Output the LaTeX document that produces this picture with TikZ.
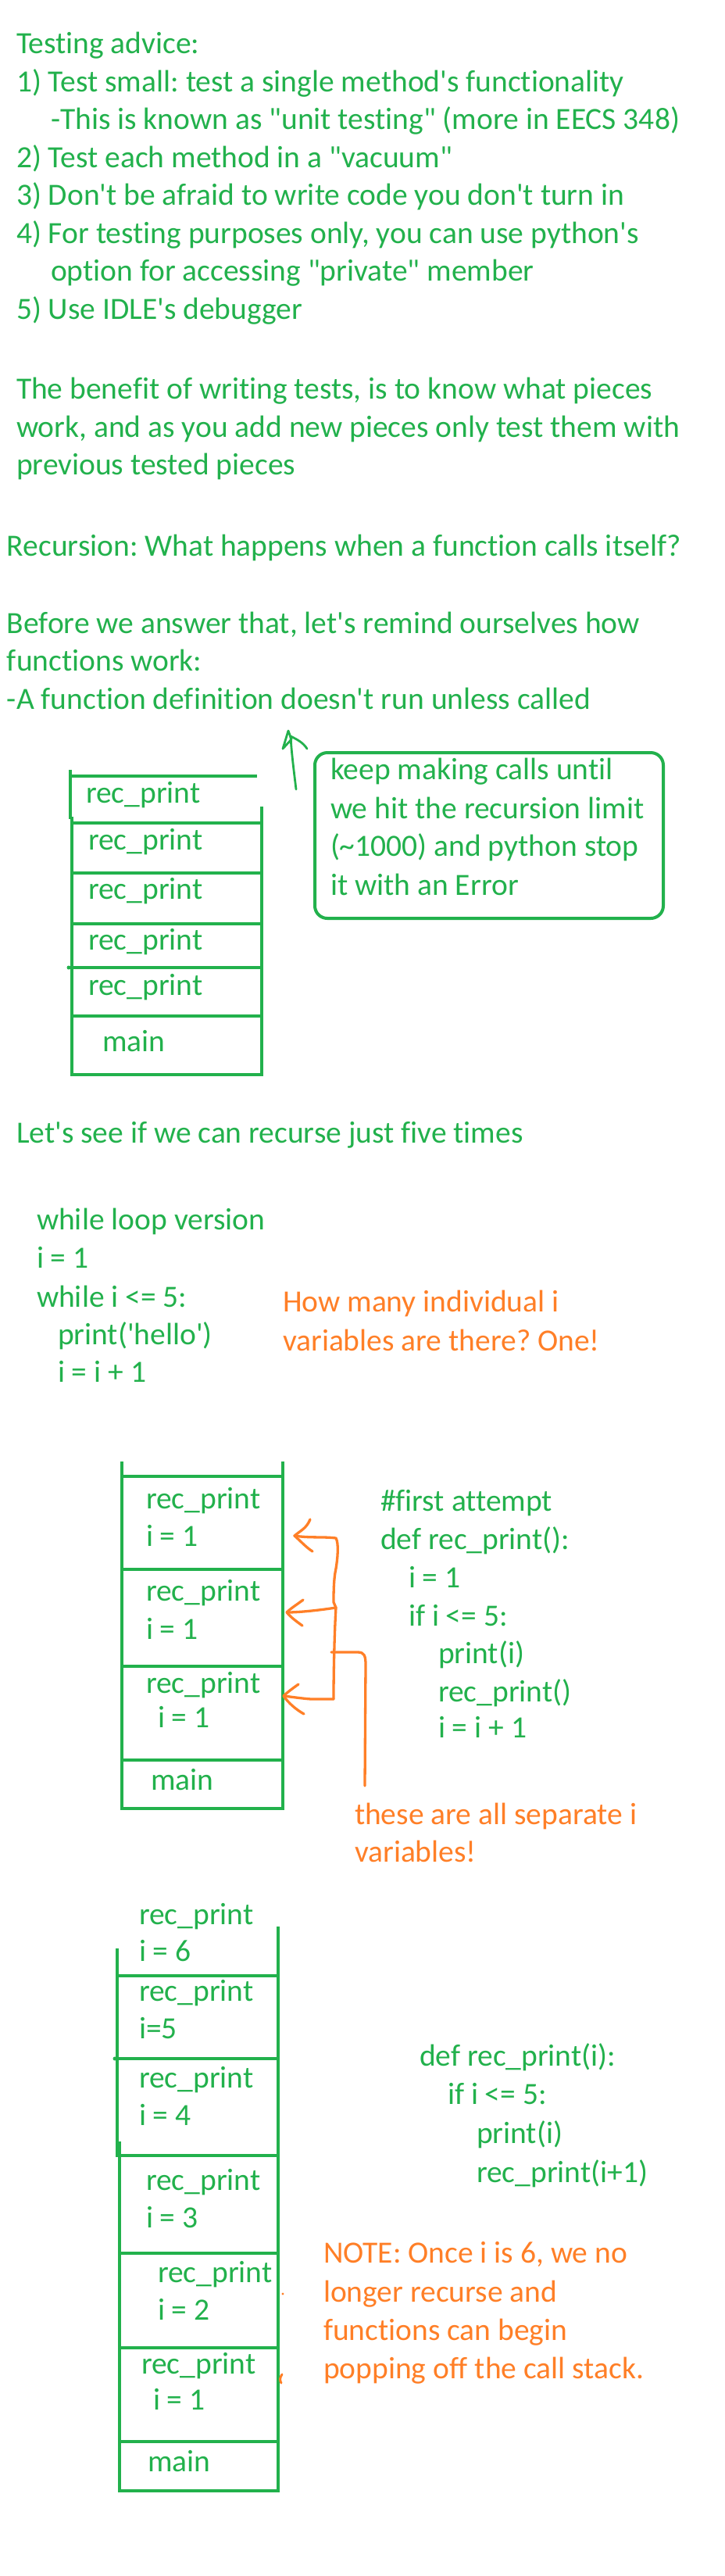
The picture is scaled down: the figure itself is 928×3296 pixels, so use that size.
\documentclass[tikz,border=0pt]{standalone}
\usepackage{fontspec}
\setmainfont{Carlito}[Ligatures={TeXOff,CommonOff}]
\definecolor{pgreen}{RGB}{34,177,76}
\definecolor{porange}{RGB}{255,127,39}
\frenchspacing
\begin{document}
\begin{tikzpicture}[x=1pt,y=-1pt,
  txt/.style={anchor=base west, inner sep=0pt, outer sep=0pt, font=\fontsize{39.5}{48}\selectfont\frenchspacing, text=pgreen},
  otxt/.style={txt, text=porange},
  stk/.style={draw=pgreen, line width=4.5pt},
  oline/.style={draw=porange, line width=3.3pt, line cap=round, line join=round},
  gline/.style={draw=pgreen, line width=2.8pt, line cap=round, line join=round}]
\useasboundingbox (0,0) rectangle (928,3296);
\fill[white] (0,0) rectangle (928,3296);

% --- testing advice
\node[txt] (t1) at (21,68) {Testing advice:};
\node[txt] (t2) at (21,117) {1) Test small: test a single method's functionality};
\node[txt] (t3) at (65,165) {-This is known as "unit testing" (more in EECS 348)};
\node[txt] (t4) at (21,214) {2) Test each method in a "vacuum"};
\node[txt] (t5) at (21,262) {3) Don't be afraid to write code you don't turn in};
\node[txt] (t6) at (21,311) {4) For testing purposes only, you can use python's};
\node[txt] (t7) at (65,359) {option for accessing "private" member};
\node[txt] (t8) at (21,408) {5) Use IDLE's debugger};

\node[txt] (b1) at (21,510) {The benefit of writing tests, is to know what pieces};
\node[txt] (b2) at (21,559) {work, and as you add new pieces only test them with};
\node[txt] (b3) at (21,607) {previous tested pieces};
\node[txt] (r1) at (9,711) {Recursion: What happens when a function calls itself?};
\node[txt] (f1) at (9,810) {Before we answer that, let's remind ourselves how};
\node[txt] (f2) at (9,858) {functions work:};
\node[txt] (f3) at (9,907) {-A function definition doesn't run unless called};

% --- stack 1
\draw[stk] (89,993) -- (329,993);
\draw[stk] (90,985) -- (90,1048);
\draw[stk] (92,1045) -- (92,1375) -- (335,1375) -- (335,1032);
\foreach \yy in {1053,1117,1182,1238,1300} \draw[stk] (92,\yy) -- (335,\yy);
\fill[pgreen] (88,1238) circle (2.5pt);
\node[txt] (s1a) at (110,1027) {rec\_print};
\node[txt] (s1b) at (113,1087) {rec\_print};
\node[txt] (s1c) at (113,1150) {rec\_print};
\node[txt] (s1d) at (113,1215) {rec\_print};
\node[txt] (s1e) at (113,1273) {rec\_print};
\node[txt] (s1m) at (131,1345) {main};

% up arrow
\coordinate (ua0) at (379,1010);
\coordinate (ua1) at (369,935);
\draw[gline] (ua0) .. controls (376,985) and (373,962) .. (372,942);
\draw[gline] (362,958) -- (ua1) -- (373,946) -- (362,958);
\draw[gline] (372,942) .. controls (380,946) and (388,950) .. (393,958);

% note box
\draw[draw=pgreen, line width=4pt, rounded corners=16pt] (403,963) rectangle (849,1175);
\node[txt] (k1) at (423,997) {keep making calls until};
\node[txt] (k2) at (423,1047) {we hit the recursion limit};
\node[txt] (k3) at (423,1095) {(\textasciitilde 1000) and python stop};
\node[txt] (k4) at (423,1145) {it with an Error};

% --- while loop
\node[txt] (l1) at (21,1462) {Let's see if we can recurse just five times};
\node[txt] (w1) at (47,1573) {while loop version};
\node[txt] (w2) at (47,1622) {i = 1};
\node[txt] (w3) at (47,1672) {while i <= 5:};
\node[txt] (w4) at (74,1720) {print('hello')};
\node[txt] (w5) at (74,1768) {i = i + 1};
\node[otxt] (o1) at (362,1678) {How many individual i};
\node[otxt] (o2) at (362,1728) {variables are there? One!};

% --- stack 2
\draw[stk] (156,1870) -- (156,2314) -- (362,2314) -- (362,1870);
\foreach \yy in {1889,2008,2132,2252} \draw[stk] (156,\yy) -- (362,\yy);
\node[txt] (s2a) at (187,1930) {rec\_print};
\node[txt] (s2b) at (187,1978) {i = 1};
\node[txt] (s2c) at (187,2048) {rec\_print};
\node[txt] (s2d) at (187,2097) {i = 1};
\node[txt] (s2e) at (187,2166) {rec\_print};
\node[txt] (s2f) at (202,2210) {i = 1};
\node[txt] (s2m) at (193,2290) {main};

\node[txt] (c1) at (487,1933) {\#first attempt};
\node[txt] (c2) at (487,1982) {def rec\_print():};
\node[txt] (c3) at (523,2031) {i = 1};
\node[txt] (c4) at (523,2080) {if i <= 5:};
\node[txt] (c5) at (561,2128) {print(i)};
\node[txt] (c6) at (561,2177) {rec\_print()};
\node[txt] (c7) at (561,2223) {i = i + 1};

% orange arrows
\coordinate (a1) at (377,1965);
\coordinate (a2) at (367,2063);
\coordinate (a3) at (363,2170);
\coordinate (j2) at (430,2057);
\coordinate (j3) at (427,2174);
\draw[oline] (a1) .. controls (395,1968) and (415,1966) .. (430,1968)
  .. controls (434,1975) and (432,1995) .. (430,2007)
  .. controls (427,2020) and (427,2040) .. (427,2050) -- (j2)
  .. controls (428,2090) and (427,2140) .. (j3);
\draw[oline] (397,1944) .. controls (392,1956) and (385,1958) .. (a1) .. controls (385,1972) and (392,1980) .. (400,1985);
\draw[oline] (j2) .. controls (410,2060) and (385,2063) .. (a2);
\draw[oline] (388,2047) .. controls (380,2053) and (372,2058) .. (a2) .. controls (373,2070) and (380,2075) .. (387,2080);
\draw[oline] (j3) -- (398,2174) .. controls (385,2173) and (372,2171) .. (a3);
\draw[oline] (382,2155) .. controls (375,2160) and (368,2165) .. (a3) .. controls (370,2180) and (380,2188) .. (389,2193);
\coordinate (br0) at (424,2114);
\coordinate (br1) at (467,2285);
\draw[oline] (br0) -- (458,2114) .. controls (466,2114) and (468,2118) .. (468,2130) -- (br1);

\node[otxt] (o3) at (454,2334) {these are all separate i};
\node[otxt] (o4) at (454,2382) {variables!};

% --- stack 3
\draw[stk] (356,2465) -- (356,3187) -- (153,3187) -- (153,2740);
\draw[stk] (150,2493) -- (150,2760);
\foreach \yy in {2528,2634,2758,2883,3004,3124} \draw[stk] (152,\yy) -- (356,\yy);
\fill[pgreen] (147,2634) circle (2.5pt);
\node[txt] (s3a) at (178,2462) {rec\_print};
\node[txt] (s3b) at (178,2509) {i = 6};
\node[txt] (s3c) at (178,2560) {rec\_print};
\node[txt] (s3d) at (178,2608) {i=5};
\node[txt] (s3e) at (178,2671) {rec\_print};
\node[txt] (s3f) at (178,2719) {i = 4};
\node[txt] (s3g) at (187,2802) {rec\_print};
\node[txt] (s3h) at (187,2850) {i = 3};
\node[txt] (s3i) at (202,2920) {rec\_print};
\node[txt] (s3j) at (202,2968) {i = 2};
\node[txt] (s3k) at (181,3037) {rec\_print};
\node[txt] (s3l) at (196,3083) {i = 1};
\node[txt] (s3m) at (189,3162) {main};
\fill[porange] (362,2935) circle (1.6pt);
\draw[porange, line width=3pt, line cap=round] (361,3038) .. controls (358,3042) and (358,3046) .. (360,3049);

\node[txt] (d1) at (537,2643) {def rec\_print(i):};
\node[txt] (d2) at (573,2692) {if i <= 5:};
\node[txt] (d3) at (610,2742) {print(i)};
\node[txt] (d4) at (610,2792) {rec\_print(i+1)};

\node[otxt] (n1) at (414,2895) {NOTE: Once i is 6, we no};
\node[otxt] (n2) at (414,2945) {longer recurse and};
\node[otxt] (n3) at (414,2994) {functions can begin};
\node[otxt] (n4) at (414,3043) {popping off the call stack.};
\end{tikzpicture}
\end{document}
